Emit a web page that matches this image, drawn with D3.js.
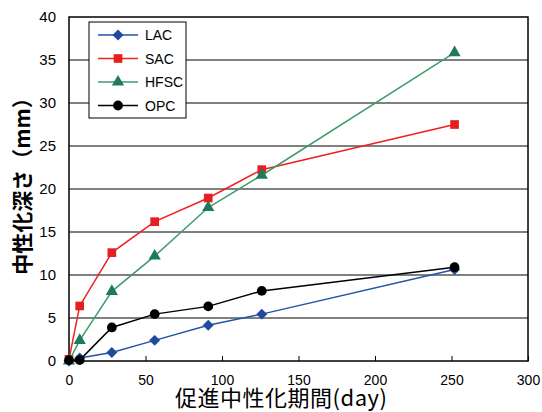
<!DOCTYPE html>
<html><head><meta charset="utf-8">
<script src="https://cdn.jsdelivr.net/npm/d3@7"></script>
<style>body{margin:0;background:#fff}</style>
</head><body>
<svg id="c" width="542" height="412"></svg>
<script>
const days = [0, 7, 28, 56, 91, 126, 252];
const seriesNames = ["LAC", "SAC", "HFSC", "OPC"];
const lacValues  = [0.0, 0.35, 1.0, 2.4, 4.15, 5.45, 10.65];
const sacValues  = [0.2, 6.4, 12.6, 16.2, 18.95, 22.25, 27.5];
const hfscValues = [0.0, 2.4, 8.1, 12.2, 17.85, 21.6, 35.85];
const opcValues  = [0.1, 0.1, 3.9, 5.45, 6.35, 8.15, 10.9];
const xTicks = [0, 50, 100, 150, 200, 250, 300];
const yTicks = [0, 5, 10, 15, 20, 25, 30, 35, 40];
const xTitle = "促進中性化期間(day)";
const yTitle = "中性化深さ（mm）";

const svg = d3.select("#c");
const L = 69, R = 528, T = 17, B = 361;
const x = d3.scaleLinear().domain([0, 300]).range([L, R]);
const y = d3.scaleLinear().domain([0, 40]).range([B, T]);

// gridlines
svg.append("g").selectAll("line").data(yTicks.filter(v => v > 0 && v < 40)).join("line")
  .attr("x1", L).attr("x2", R).attr("y1", d => y(d)).attr("y2", d => y(d))
  .attr("stroke", "#000").attr("stroke-width", 1);

// frame
svg.append("rect").attr("x", L).attr("y", T).attr("width", R - L).attr("height", B - T)
  .attr("fill", "none").attr("stroke", "#000").attr("stroke-width", 1.5);

// x axis (inner ticks)
const xa = svg.append("g").attr("transform", `translate(0,${B})`)
  .call(d3.axisBottom(x).tickValues(xTicks).tickSize(-5).tickPadding(14).tickFormat(d3.format("d")));
xa.select(".domain").remove();
xa.selectAll("line").attr("stroke", "#000");
xa.selectAll("text").attr("font-family", "Liberation Sans, Arial, sans-serif").attr("font-size", 14).attr("fill", "#000");

// y axis
const ya = svg.append("g").attr("transform", `translate(${L},0)`)
  .call(d3.axisLeft(y).tickValues(yTicks).tickSize(0).tickPadding(13).tickFormat(d3.format("d")));
ya.select(".domain").remove();
ya.selectAll("text").attr("font-family", "Liberation Sans, Arial, sans-serif").attr("font-size", 15).attr("fill", "#000");

// titles
svg.append("text").attr("x", 281).attr("y", 406).attr("text-anchor", "middle")
  .attr("font-family", "Noto Sans CJK JP, sans-serif").attr("font-size", 22)
  .attr("textLength", 212).attr("fill", "#000").text(xTitle);
svg.append("text").attr("transform", "translate(30,181) rotate(-90)").attr("text-anchor", "middle")
  .attr("font-family", "Noto Sans CJK JP, sans-serif").attr("font-size", 21).attr("font-weight", "bold").attr("fill", "#000").text(yTitle);

const diamond = {draw(ctx, size) { const r = Math.sqrt(size / 2); ctx.moveTo(0, -r); ctx.lineTo(r, 0); ctx.lineTo(0, r); ctx.lineTo(-r, 0); ctx.closePath(); }};

const series = [
  {name: "LAC", vals: lacValues, line: "#2453a6", mark: "#1f4a9e", sym: diamond, size: 60},
  {name: "SAC", vals: sacValues, line: "#ee2020", mark: "#e61e1e", sym: d3.symbolSquare, size: 75},
  {name: "HFSC", vals: hfscValues, line: "#3f9c6c", mark: "#1e7a5c", sym: d3.symbolTriangle, size: 65},
  {name: "OPC", vals: opcValues, line: "#000", mark: "#000", sym: d3.symbolCircle, size: 75}
];

const lineGen = d3.line().x(d => x(d[0])).y(d => y(d[1]));
series.forEach(s => {
  const pts = days.map((d, i) => [d, s.vals[i]]);
  svg.append("path").attr("d", lineGen(pts)).attr("fill", "none").attr("stroke", s.line).attr("stroke-width", 1.5);
  svg.append("g").selectAll("path").data(pts).join("path")
    .attr("transform", d => `translate(${x(d[0])},${y(d[1])})`)
    .attr("d", d3.symbol().type(s.sym).size(s.size)).attr("fill", s.mark);
});

// legend
const lg = svg.append("g");
lg.append("rect").attr("x", 89).attr("y", 22).attr("width", 97).attr("height", 96)
  .attr("fill", "#fff").attr("stroke", "#000").attr("stroke-width", 1);
const rowY = [35, 58.5, 82, 105.5];
series.forEach((s, i) => {
  lg.append("line").attr("x1", 98).attr("x2", 138).attr("y1", rowY[i]).attr("y2", rowY[i])
    .attr("stroke", s.line).attr("stroke-width", 1.5);
  lg.append("path").attr("transform", `translate(118,${rowY[i]})`)
    .attr("d", d3.symbol().type(s.sym).size(s.size)).attr("fill", s.mark);
  lg.append("text").attr("x", 145).attr("y", rowY[i] + 5).attr("font-family", "Liberation Sans, Arial, sans-serif")
    .attr("font-size", 14).attr("fill", "#000").text(s.name);
});
</script>
</body></html>
